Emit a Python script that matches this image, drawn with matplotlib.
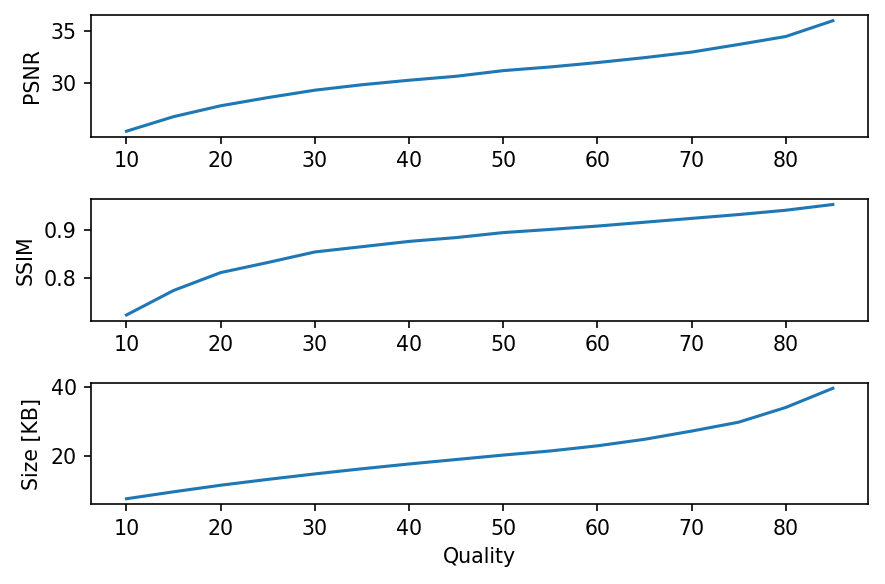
import matplotlib
matplotlib.use("Agg")
import matplotlib.pyplot as plt

# JPEG quality sweep
quality = [10, 15, 20, 25, 30, 35, 40, 45, 50, 55, 60, 65, 70, 75, 80, 85]
psnr = [25.44, 26.83, 27.87, 28.65, 29.36, 29.88, 30.31, 30.69, 31.23, 31.58,
        32.0, 32.47, 33.0, 33.73, 34.49, 36.0]
ssim = [0.7226, 0.7737, 0.811, 0.832, 0.854, 0.865, 0.876, 0.884, 0.8944, 0.901,
        0.908, 0.916, 0.924, 0.932, 0.941, 0.953]
size_kb = [7.45, 9.48, 11.4, 13.1, 14.7, 16.2, 17.6, 18.9, 20.2, 21.4,
           22.9, 24.8, 27.2, 29.8, 34.1, 39.7]

DPI = 148
fig, axes = plt.subplots(3, 1, figsize=(885 / DPI, 584 / DPI), dpi=DPI)
fig.subplots_adjust(left=0.103, right=0.981, top=0.974, bottom=0.1365, hspace=0.512)

for ax, values, label in zip(axes, [psnr, ssim, size_kb], ["PSNR", "SSIM", "Size [KB]"]):
    ax.plot(quality, values)
    ax.set_ylabel(label)

axes[0].set_yticks([30, 35])
axes[1].set_yticks([0.8, 0.9])
axes[2].set_yticks([20, 40])
axes[2].set_xlabel("Quality")

fig.savefig("out.png", dpi=DPI)
